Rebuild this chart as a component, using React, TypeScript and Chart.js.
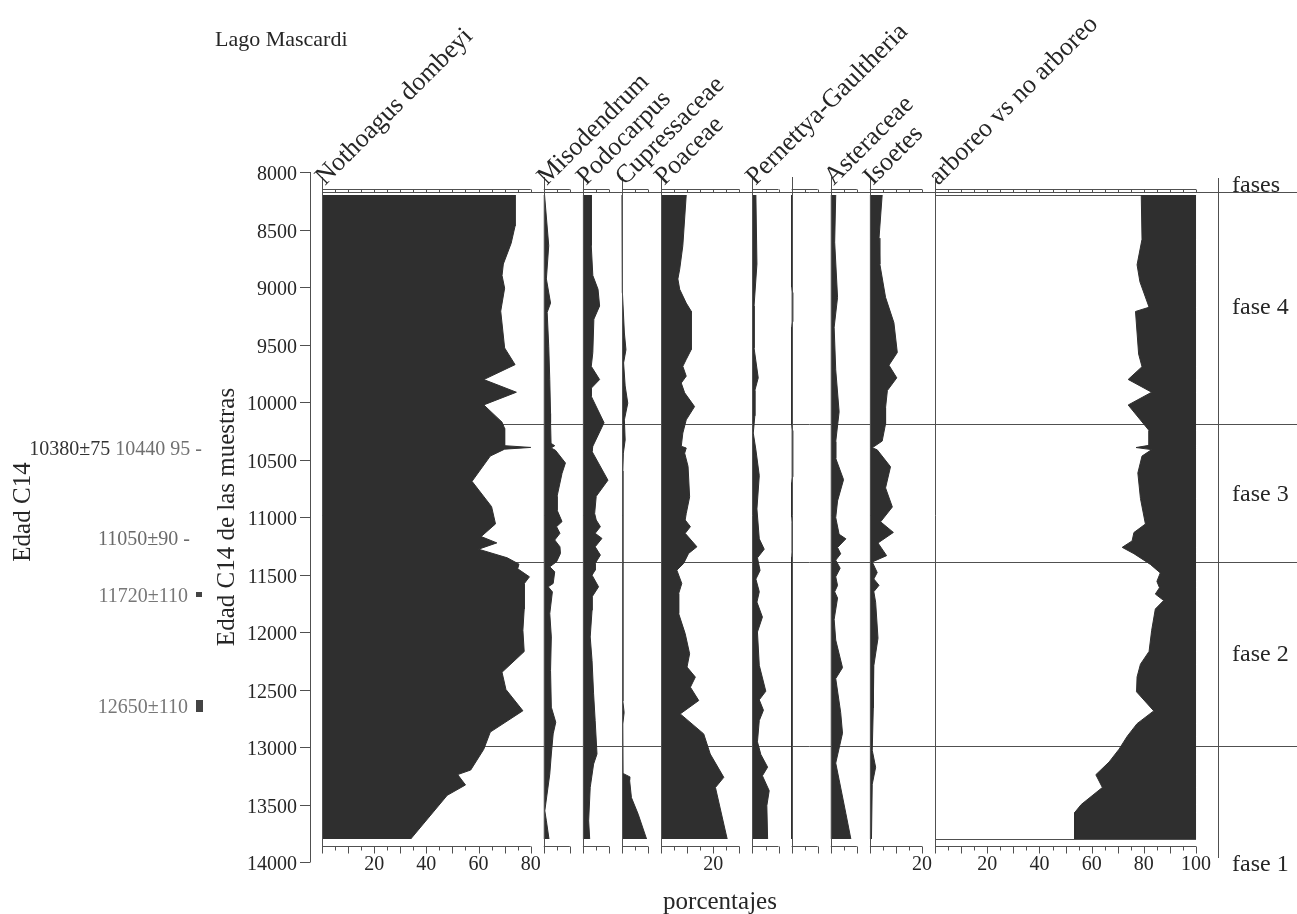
import React, { useEffect, useRef } from 'react';
import { Chart, registerables } from 'chart.js';

Chart.register(...registerables);

// ---------- data ----------
const siteName = 'Lago Mascardi';
const taxa = [
  'Nothoagus dombeyi',
  'Misodendrum',
  'Podocarpus',
  'Cupressaceae',
  'Poaceae',
  'Pernettya-Gaultheria',
  '',
  'Asteraceae',
  'Isoetes',
  'arboreo vs no arboreo',
];
const taxonMax = [80, 10, 10, 10, 30, 10, 10, 10, 20, 100];
const bottomTickLabels: number[][] = [[20, 40, 60, 80], [], [], [], [20], [], [], [], [20], [20, 40, 60, 80, 100]];
const yTicks = [8000, 8500, 9000, 9500, 10000, 10500, 11000, 11500, 12000, 12500, 13000, 13500, 14000];
const topLineAge = 8170;
const phaseLines = [10190, 11390, 12990];
const phaseNames = ['fases', 'fase 4', 'fase 3', 'fase 2', 'fase 1'];
const yTitle = 'Edad C14 de las muestras';
const c14Title = 'Edad C14';
const xTitle = 'porcentajes';

const nothoAge = [8200, 8470, 8620, 8800, 8900, 9010, 9210, 9530, 9675, 9805, 9915, 10025, 10175, 10230, 10300, 10380, 10395, 10410, 10470, 10690, 10910, 11060, 11170, 11225, 11280, 11355, 11410, 11450, 11520, 11580, 11800, 11985, 12170, 12350, 12500, 12685, 12870, 13020, 13200, 13240, 13330, 13420, 13800];
const nothoPct = [74, 74, 72.5, 69.5, 69, 70, 68.5, 70, 74, 62, 74.5, 62, 69, 70, 70, 70, 80, 70, 64.5, 57.5, 65, 66.5, 61, 67, 60, 71, 75.5, 75, 79.5, 77.5, 77.5, 77, 77.5, 69, 70.5, 77, 64.5, 62, 57, 52, 55, 48, 34];

const misoAge = [8200, 8640, 8930, 9140, 9220, 9515, 9805, 10100, 10180, 10360, 10380, 10400, 10420, 10530, 10620, 10820, 10940, 11040, 11084, 11142, 11200, 11259, 11317, 11389, 11433, 11477, 11578, 11607, 11651, 11840, 12043, 12334, 12654, 12785, 12886, 13061, 13235, 13555, 13642, 13800];
const misoPct = [0.3, 1.9, 1, 2.6, 1.3, 1.9, 2.3, 2.6, 2.6, 2.8, 4.2, 2.8, 4.5, 8.3, 7, 5.1, 5.1, 7, 4.9, 6.2, 4.2, 6.2, 6.4, 4.9, 2.3, 4.2, 3.6, 1.7, 3.3, 2.3, 2.9, 2.6, 2.9, 4.6, 3.6, 2.9, 2.3, 0.4, 1, 2];

const podoAge = [8200, 8640, 8900, 9020, 9165, 9280, 9570, 9690, 9805, 9880, 9950, 10180, 10385, 10430, 10680, 10820, 10970, 11026, 11084, 11142, 11186, 11259, 11331, 11404, 11462, 11506, 11607, 11695, 11811, 12043, 12247, 12538, 12770, 13061, 13148, 13352, 13642, 13800];
const podoPct = [3.2, 3.2, 3.8, 5.8, 6.4, 4.2, 3.8, 3.2, 6.4, 3.2, 3.2, 8.1, 3.8, 3.5, 9.6, 5.1, 4.5, 5.1, 6.7, 4.7, 7.3, 4.7, 6.7, 4.7, 4.7, 3.5, 6, 3.5, 3.5, 2.8, 3.5, 4.1, 4.7, 5.4, 4.1, 2.8, 2.2, 2.6];

const cupreAge = [8200, 9000, 9050, 9400, 9545, 9660, 9860, 10010, 10155, 10330, 10445, 10600, 11000, 12600, 12700, 12800, 13230, 13260, 13290, 13440, 13585, 13800];
const cuprePct = [0, 0, 0.3, 0.9, 1.5, 0.6, 1.2, 2.2, 0.9, 1.2, 0.5, 0.3, 0.3, 0.3, 0.8, 0.3, 0.4, 3, 2.9, 3.6, 6.2, 9.4];

const poaAge = [8200, 8640, 8845, 8930, 9020, 9140, 9210, 9545, 9630, 9690, 9775, 9835, 9920, 10040, 10155, 10270, 10385, 10400, 10445, 10560, 10825, 10970, 11026, 11084, 11142, 11259, 11317, 11404, 11462, 11578, 11666, 11840, 12014, 12189, 12305, 12392, 12480, 12596, 12712, 12886, 13061, 13264, 13352, 13800];
const poaPct = [9.6, 8.3, 7.1, 6.4, 7.1, 9.6, 11.5, 11.5, 9.6, 8.3, 9.6, 7.7, 9, 12.8, 9.6, 8.3, 7.7, 9.6, 9, 10.3, 10.9, 9.6, 9.2, 11.2, 9.2, 13.7, 10.5, 8.6, 6, 7.9, 6.7, 6.7, 9.2, 10.9, 9.9, 13.1, 11.2, 14.4, 7.3, 16.3, 18.8, 24, 20.8, 25.3];

const pernAge = [8200, 8800, 9165, 9530, 9790, 9900, 10120, 10270, 10415, 10640, 10930, 11190, 11280, 11355, 11465, 11540, 11650, 11740, 11870, 12000, 12290, 12515, 12590, 12680, 12770, 12955, 13065, 13175, 13250, 13380, 13510, 13800];
const pernPct = [1.3, 1.7, 0.6, 0.6, 2.2, 0.9, 0.9, 0.3, 1.3, 2.6, 1.7, 2.6, 4.5, 1.9, 2.9, 1.3, 2.6, 1.7, 3.8, 1.9, 2.6, 5.1, 2.6, 4.2, 2.6, 1.9, 3.2, 5.8, 3.8, 6.4, 5.5, 5.8];

const indetAge = [8200, 9000, 9050, 9300, 9350, 10200, 10250, 10650, 10700, 11000, 11050, 11300, 11350, 13800];
const indetPct = [0, 0, 0.4, 0.4, 0, 0, 0.4, 0.4, 0, 0, 0.3, 0.3, 0, 0];

const asterAge = [8200, 8610, 9090, 9350, 9720, 10085, 10345, 10490, 10675, 10860, 11005, 11150, 11190, 11265, 11320, 11375, 11445, 11520, 11595, 11650, 11705, 11890, 12070, 12310, 12405, 12700, 12880, 13140, 13285, 13580, 13800];
const asterPct = [1.9, 1.5, 2.6, 1.3, 1.9, 3.2, 1.9, 1.9, 4.9, 2.6, 1.9, 3.2, 5.8, 2.6, 3.8, 1.9, 3.6, 1.9, 2.6, 1.5, 2.6, 1.3, 1.9, 4.5, 1.9, 3.8, 4.5, 1.9, 3.2, 5.8, 7.7];

const isoAge = [8200, 8575, 8800, 9090, 9310, 9570, 9680, 9790, 9900, 10050, 10190, 10340, 10398, 10416, 10563, 10747, 10913, 11042, 11134, 11226, 11336, 11391, 11483, 11539, 11594, 11649, 11741, 12054, 12293, 12661, 13029, 13176, 13324, 13800];
const isoPct = [4.7, 3.5, 3.8, 6, 9.2, 10.5, 7.3, 10.3, 6.7, 6, 6, 4.7, 0.9, 2.8, 7.9, 6, 8.6, 4.1, 9, 3.1, 6.4, 0.9, 2.8, 1.5, 3.5, 1.5, 2.2, 3.1, 1.5, 1.3, 0.9, 2.2, 0.9, 0.6];

const arbAge = [8200, 8585, 8807, 8955, 9176, 9213, 9583, 9693, 9804, 9915, 10026, 10248, 10377, 10396, 10414, 10470, 10617, 10839, 11061, 11135, 11208, 11264, 11319, 11412, 11486, 11560, 11615, 11670, 11726, 11800, 11985, 12169, 12280, 12391, 12520, 12686, 12797, 12908, 13019, 13130, 13241, 13352, 13500, 13570, 13800];
const arbPct = [79, 79.3, 77.4, 78.5, 82, 76.8, 78, 79.3, 74, 83, 74, 82, 82, 77, 83, 79.3, 77.7, 78.7, 80.6, 76.2, 75.5, 71.7, 76.2, 82.5, 86.3, 85, 86, 84.4, 87.6, 84.4, 83, 82, 78.7, 77.4, 77.2, 83.8, 77.4, 73.6, 70.5, 66.7, 61.6, 64.1, 56, 53.5, 53.5];

const seriesAges = [nothoAge, misoAge, podoAge, cupreAge, poaAge, pernAge, indetAge, asterAge, isoAge, arbAge];
const seriesPct = [nothoPct, misoPct, podoPct, cuprePct, poaPct, pernPct, indetPct, asterPct, isoPct, arbPct];

// ---------- layout ----------
const W = 1297;
const H = 914;
const PANEL_GAP = 5;
const X_MAX = 373.7;
const FONT = '"Liberation Serif", "Times New Roman", serif';
const INK = '#262626';
const FILL = '#2f2f2f';
const LINE = '#505050';

const offsets: number[] = [];
{
  let acc = 0;
  taxonMax.forEach((m) => {
    offsets.push(acc);
    acc += m + PANEL_GAP;
  });
}
const ARB = taxa.length - 1;

const decor = {
  id: 'pollenDecor',
  beforeDraw(chart: any) {
    const ctx = chart.ctx;
    ctx.save();
    ctx.fillStyle = '#ffffff';
    ctx.fillRect(0, 0, chart.width, chart.height);
    ctx.restore();
  },
  beforeDatasetsDraw(chart: any) {
    const { ctx } = chart;
    const xs = chart.scales.x;
    const ys = chart.scales.y;
    const X = (v: number) => xs.getPixelForValue(v);
    const Y = (v: number) => ys.getPixelForValue(v);
    const c = (p: number) => Math.round(p) + 0.5;
    const line = (x1: number, y1: number, x2: number, y2: number) => {
      ctx.beginPath();
      ctx.moveTo(x1, y1);
      ctx.lineTo(x2, y2);
      ctx.stroke();
    };
    ctx.save();
    ctx.strokeStyle = LINE;
    ctx.lineWidth = 1;
    const topY = c(Y(topLineAge));
    line(X(0), topY, chart.width, topY);
    phaseLines.forEach((a) => line(X(0), c(Y(a)), chart.width, c(Y(a))));
    // arboreo white-box outline
    const a0 = X(offsets[ARB]);
    const a1 = X(offsets[ARB] + taxonMax[ARB]);
    line(a0, c(Y(arbAge[0])), a1, c(Y(arbAge[0])));
    line(a0, c(Y(arbAge[arbAge.length - 1])), a1, c(Y(arbAge[arbAge.length - 1])));
    ctx.restore();
  },
  afterDatasetsDraw(chart: any) {
    const { ctx } = chart;
    const xs = chart.scales.x;
    const ys = chart.scales.y;
    const X = (v: number) => xs.getPixelForValue(v);
    const Y = (v: number) => ys.getPixelForValue(v);
    const c = (p: number) => Math.round(p) + 0.5;
    const line = (x1: number, y1: number, x2: number, y2: number) => {
      ctx.beginPath();
      ctx.moveTo(x1, y1);
      ctx.lineTo(x2, y2);
      ctx.stroke();
    };
    const yTop = Y(yTicks[0]);
    const yBot = Y(yTicks[yTicks.length - 1]);
    ctx.save();
    ctx.strokeStyle = LINE;
    ctx.lineWidth = 1;

    // panels: baselines, top tick bars, bottom axes
    const barTop = c(Y(topLineAge)) - 3;
    const barBot = c(Y(topLineAge));
    const axisY = c(yBot - 16);
    taxa.forEach((_, i) => {
      const off = offsets[i];
      const m = taxonMax[i];
      const bx = c(X(off));
      line(bx, yTop + 5, bx, axisY + 7);
      line(X(off), barTop, X(off + m), barTop);
      line(X(off), axisY, X(off + m), axisY);
      for (let v = 5; v <= m; v += 5) {
        const tx = c(X(off + v));
        line(tx, barTop, tx, barBot);
        line(tx, axisY, tx, axisY + (v % 10 === 0 ? 7 : 4));
      }
    });

    // y axis
    const ax = 310.5;
    line(ax, yTop, ax, yBot);
    ctx.fillStyle = INK;
    ctx.font = `20px ${FONT}`;
    ctx.textAlign = 'right';
    ctx.textBaseline = 'alphabetic';
    yTicks.forEach((t) => {
      const ty = c(Y(t));
      line(300, ty, ax, ty);
      ctx.fillText(String(t), 297, ty + 7);
    });

    // fases column
    line(1218.5, yTop + 6, 1218.5, yBot - 4);

    // bottom tick labels
    ctx.textAlign = 'center';
    ctx.font = `20px ${FONT}`;
    bottomTickLabels.forEach((labs, i) => {
      labs.forEach((v) => ctx.fillText(String(v), X(offsets[i] + v), yBot + 8));
    });

    // titles
    ctx.font = `25px ${FONT}`;
    ctx.fillText(xTitle, 720, 909);

    ctx.textAlign = 'left';
    ctx.font = `22px ${FONT}`;
    ctx.fillText(siteName, 215, 46);

    // taxon labels rotated
    ctx.font = `26px ${FONT}`;
    taxa.forEach((t, i) => {
      if (!t) return;
      ctx.save();
      ctx.translate(X(offsets[i]) + 3, 186);
      ctx.rotate(-Math.PI / 4);
      ctx.fillText(t, 0, 0);
      ctx.restore();
    });

    // phase labels
    ctx.font = `24px ${FONT}`;
    const phaseY = [192, 314, 501, 661, 871];
    phaseNames.forEach((p, i) => ctx.fillText(p, 1232, phaseY[i]));

    // axis titles (rotated)
    ctx.textAlign = 'center';
    ctx.textBaseline = 'middle';
    ctx.font = `25px ${FONT}`;
    ctx.save();
    ctx.translate(227, 517);
    ctx.rotate(-Math.PI / 2);
    ctx.fillText(yTitle, 0, 0);
    ctx.restore();
    ctx.save();
    ctx.translate(23, 512);
    ctx.rotate(-Math.PI / 2);
    ctx.fillText(c14Title, 0, 0);
    ctx.restore();

    // dated samples
    ctx.textBaseline = 'alphabetic';
    ctx.textAlign = 'right';
    ctx.font = `20px ${FONT}`;
    ctx.fillStyle = '#707070';
    ctx.fillText('10440 95 -', 202, 455);
    const w1 = ctx.measureText('10440 95 -').width;
    ctx.fillStyle = '#333333';
    ctx.fillText('10380\u00B175 ', 202 - w1, 455);
    ctx.fillStyle = '#6a6a6a';
    ctx.fillText('11050\u00B190 -', 190, 545);
    ctx.fillStyle = '#777777';
    ctx.fillText('11720\u00B1110', 188, 602);
    ctx.fillText('12650\u00B1110', 188, 713);
    ctx.fillStyle = '#444444';
    ctx.fillRect(196, 592, 6, 5);
    ctx.fillRect(196, 700, 7, 12);
    ctx.restore();
  },
};

export default function App() {
  const ref = useRef<HTMLCanvasElement | null>(null);
  useEffect(() => {
    if (!ref.current) return;
    const datasets = seriesAges.map((ages, i) => {
      const off = offsets[i];
      return {
        label: taxa[i] || 'indet.',
        data: ages.map((a, k) => ({ x: off + seriesPct[i][k], y: a })),
        borderColor: FILL,
        backgroundColor: FILL,
        borderWidth: 1,
        pointRadius: 0,
        tension: 0,
        fill: { value: i === ARB ? off + taxonMax[i] : off },
      };
    });
    const chart = new Chart(ref.current, {
      type: 'line',
      data: { datasets },
      options: {
        animation: false,
        responsive: false,
        indexAxis: 'y',
        layout: { padding: { left: 322, right: 0, top: 172, bottom: 52 } },
        scales: {
          x: { type: 'linear', min: 0, max: X_MAX, display: false },
          y: { type: 'linear', min: 8000, max: 14000, reverse: true, display: false },
        },
        plugins: { legend: { display: false }, tooltip: { enabled: false } },
      },
      plugins: [decor],
    } as any);
    return () => chart.destroy();
  }, []);
  return (
    <div style={{ position: 'absolute', left: 0, top: 0, width: W, height: H }}>
      <canvas ref={ref} width={W} height={H} style={{ display: 'block' }} />
    </div>
  );
}
